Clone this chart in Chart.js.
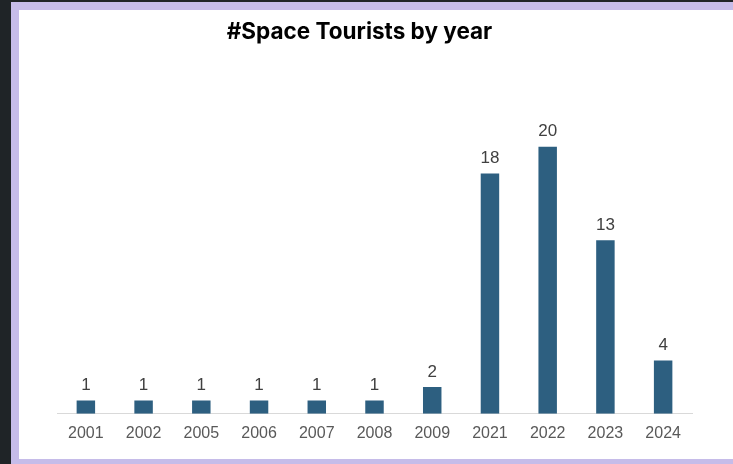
<!DOCTYPE html>
<html>
<head>
<meta charset="utf-8">
<script src="https://cdn.jsdelivr.net/npm/chart.js@4"></script>
<style>
  html, body { margin: 0; padding: 0; }
  body { width: 733px; height: 464px; background: #1f2427; position: relative; overflow: hidden; }
  #frame { position: absolute; left: 11px; top: 2px; width: 722px; height: 462px; background: #c6bce9; }
  #card { position: absolute; left: 19px; top: 10px; width: 714px; height: 449px; background: #ffffff; }
  #card canvas { display: block; }
</style>
</head>
<body>
<div id="frame"></div>
<div id="card"><canvas id="chart" width="714" height="449"></canvas></div>
<script>
// chart data
var years = ['2001', '2002', '2005', '2006', '2007', '2008', '2009', '2021', '2022', '2023', '2024'];
var tourists = [1, 1, 1, 1, 1, 1, 2, 18, 20, 13, 4];
var chartTitle = '#Space Tourists by year';

// value labels above each bar
var barLabels = {
  id: 'barLabels',
  afterDatasetsDraw: function(chart) {
    var ctx = chart.ctx;
    var meta = chart.getDatasetMeta(0);
    ctx.save();
    ctx.font = '17px "Liberation Sans", Arial, sans-serif';
    ctx.fillStyle = '#404040';
    ctx.textAlign = 'center';
    ctx.textBaseline = 'alphabetic';
    meta.data.forEach(function(bar, i) {
      ctx.fillText(String(tourists[i]), bar.x, bar.y - 10.5);
    });
    ctx.restore();
  }
};

var ctx = document.getElementById('chart').getContext('2d');
new Chart(ctx, {
  type: 'bar',
  data: {
    labels: years,
    datasets: [{
      data: tourists,
      backgroundColor: '#2d5f80',
      borderWidth: 0,
      barPercentage: 0.32,
      categoryPercentage: 1
    }]
  },
  options: {
    responsive: false,
    animation: false,
    layout: { padding: { left: 8, right: 41, top: 0, bottom: 6 } },
    plugins: {
      legend: { display: false },
      tooltip: { enabled: false },
      title: {
        display: true,
        text: chartTitle,
        color: '#000000',
        font: { family: 'Inter', size: 22.5, weight: 'bold' },
        padding: { top: 9, bottom: 74 }
      }
    },
    scales: {
      x: {
        grid: { display: false, drawTicks: false },
        border: { display: true, color: '#d9d9d9', width: 1 },
        ticks: {
          color: '#595959',
          padding: 10,
          font: { family: '"Liberation Sans", Arial, sans-serif', size: 16 }
        }
      },
      y: {
        display: true,
        min: 0,
        max: 22,
        grid: { display: false, drawTicks: false },
        border: { display: false },
        ticks: { display: false },
        afterFit: function(scale) { scale.width = 30; }
      }
    }
  },
  plugins: [barLabels]
});
</script>
</body>
</html>
